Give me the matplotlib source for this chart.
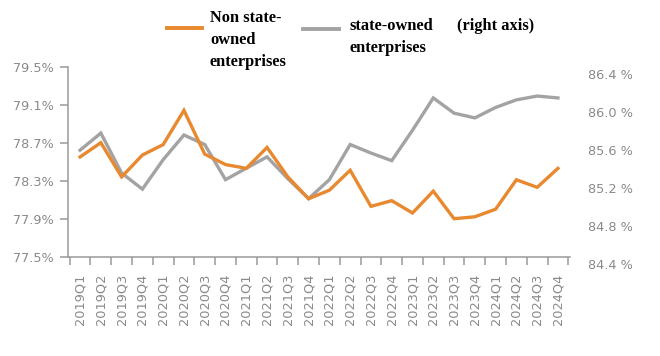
import matplotlib
matplotlib.use("Agg")
import matplotlib.pyplot as plt
from matplotlib.lines import Line2D
import numpy as np

quarters = ["2019Q1", "2019Q2", "2019Q3", "2019Q4",
            "2020Q1", "2020Q2", "2020Q3", "2020Q4",
            "2021Q1", "2021Q2", "2021Q3", "2021Q4",
            "2022Q1", "2022Q2", "2022Q3", "2022Q4",
            "2023Q1", "2023Q2", "2023Q3", "2023Q4",
            "2024Q1", "2024Q2", "2024Q3", "2024Q4"]

non_state = [78.55, 78.70, 78.34, 78.57, 78.68, 79.04, 78.58, 78.47,
             78.43, 78.65, 78.34, 78.11, 78.20, 78.41, 78.03, 78.09,
             77.96, 78.19, 77.90, 77.92, 78.00, 78.31, 78.23, 78.43]

state_owned = [85.60, 85.78, 85.36, 85.19, 85.50, 85.76, 85.66, 85.29,
               85.41, 85.53, 85.30, 85.09, 85.29, 85.66, 85.57, 85.49,
               85.81, 86.15, 85.99, 85.94, 86.05, 86.13, 86.17, 86.15]

left_ticks = [77.5, 77.9, 78.3, 78.7, 79.1, 79.5]
right_ticks = [84.4, 84.8, 85.2, 85.6, 86.0, 86.4]

ORANGE = "#E8892F"
GRAY = "#A3A3A3"
TXT = "#8a8a8a"
SPINE = "#9a9a9a"

W, H = 660, 356
fig = plt.figure(figsize=(W / 100, H / 100), dpi=100)

x0, x1 = 68, 570
ytop, ybot = 66.7, 256.7
ax = fig.add_axes([x0 / W, 1 - ybot / H, (x1 - x0) / W, (ybot - ytop) / H])
shift = 7.5
ax2 = fig.add_axes([x0 / W, 1 - (ybot + shift) / H, (x1 - x0) / W, (ybot - ytop) / H])
ax2.patch.set_visible(False)

x = np.arange(len(quarters))
ax.plot(x, non_state, color=ORANGE, lw=2.4, solid_joinstyle="miter", zorder=3)
ax2.plot(x, state_owned, color=GRAY, lw=2.4, solid_joinstyle="miter", zorder=2)
ax.set_zorder(ax2.get_zorder() + 1)
ax.patch.set_visible(False)

for a in (ax, ax2):
    a.set_xlim(-0.58, len(quarters) - 1 + 0.58)

ax.set_ylim(left_ticks[0], left_ticks[-1])
ax.set_yticks(left_ticks)
ax.set_yticklabels([f"{v:.1f}%" for v in left_ticks])
ax2.set_ylim(right_ticks[0], right_ticks[-1])
ax2.set_yticks(right_ticks)
ax2.set_yticklabels([f"{v:.1f} %" for v in right_ticks])
ax2.yaxis.tick_right()
ax2.tick_params(axis="y", length=0, pad=13, labelsize=9.3, labelcolor=TXT)
ax2.set_xticks([])
for s in ax2.spines.values():
    s.set_visible(False)

ax.set_xticks(x)
ax.set_xticklabels(quarters, rotation=90, fontsize=9.3, color=TXT)
ax.set_xticks(np.arange(len(quarters) + 1) - 0.5, minor=True)
ax.tick_params(axis="x", which="major", length=0, pad=12)
ax.tick_params(axis="x", which="minor", length=6, width=1.1, color=SPINE)
ax.tick_params(axis="y", length=6, width=1.1, color=SPINE, pad=4,
               labelsize=9.3, labelcolor=TXT)
for side in ("top", "right"):
    ax.spines[side].set_visible(False)
for side in ("left", "bottom"):
    ax.spines[side].set_color(SPINE)
    ax.spines[side].set_linewidth(1.1)

# legend
lfont = dict(family="Liberation Serif", weight="bold", fontsize=11.8, color="#000000")
fig.add_artist(Line2D([167 / W, 202 / W], [1 - 28 / H, 1 - 28 / H], color=ORANGE, lw=2.8))
fig.text(210 / W, 1 - 10 / H, "Non state-\nowned\nenterprises", va="top", ha="left",
         linespacing=1.5, **lfont)
fig.add_artist(Line2D([303 / W, 339 / W], [1 - 29 / H, 1 - 29 / H], color=GRAY, lw=2.8))
fig.text(349 / W, 1 - 18 / H, "state-owned\nenterprises", va="top", ha="left",
         linespacing=1.5, **lfont)
fig.text(457 / W, 1 - 18 / H, "(right axis)", va="top", ha="left", **lfont)

fig.savefig("out.png", dpi=100)
